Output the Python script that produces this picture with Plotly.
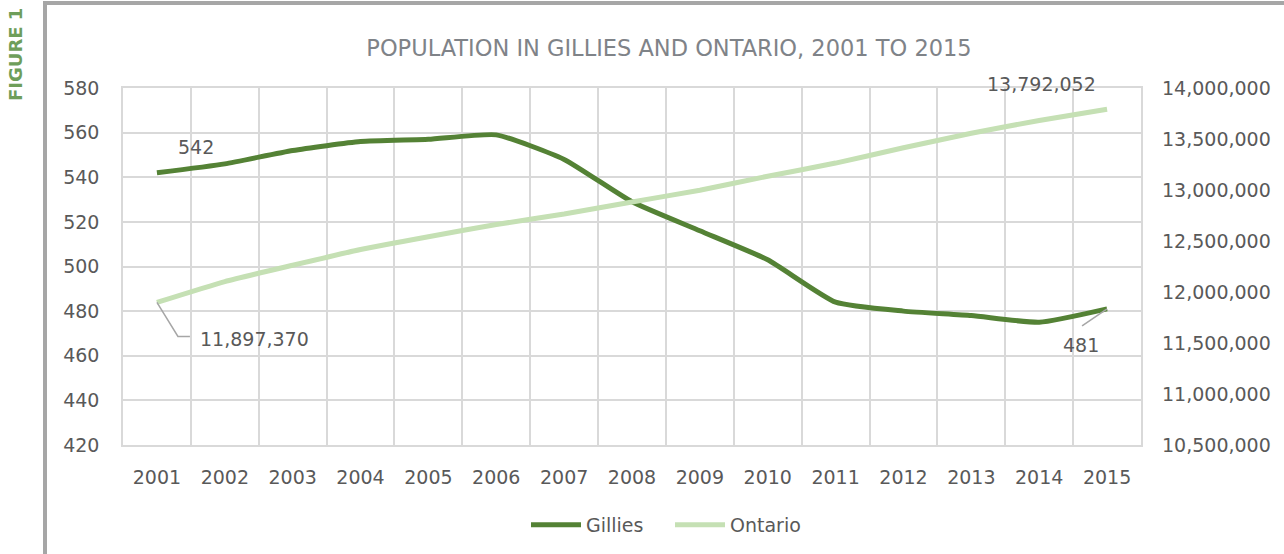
import plotly.graph_objects as go

years = list(range(2001, 2016))
gillies = [542, 546, 552, 556, 557, 559, 548, 529, 516, 503, 484, 480, 478, 475, 481]
ontario = [11897370, 12102000, 12262000, 12416000, 12542000, 12662000, 12764000,
           12883000, 12998000, 13135000, 13264000, 13414000, 13556000, 13682000, 13792052]
left_ticks = list(range(420, 581, 20))
right_ticks = list(range(10500000, 14000001, 500000))

FONT = "DejaVu Sans"
TXT = "#595959"
GRID = "#D9D9D9"

W, H = 1284, 554
L, R, T, B = 123, 143, 88, 109
pw, ph = W - L - R, H - T - B

def px(x):
    return (x - L) / pw

def py(y):
    return (H - B - y) / ph

fig = go.Figure()
fig.add_trace(go.Scatter(x=years, y=gillies, name="Gillies", mode="lines",
                         line=dict(color="#548235", width=5, shape="spline", smoothing=0.5)))
fig.add_trace(go.Scatter(x=years, y=ontario, name="Ontario", mode="lines", yaxis="y2",
                         line=dict(color="#C5E0B4", width=5, shape="spline", smoothing=0.5)))

ann_font = dict(family=FONT, size=19, color=TXT)
annotations = [
    dict(x=years[0], y=gillies[0], xref="x", yref="y", text=f"{gillies[0]}",
         showarrow=False, xshift=39, yshift=26, font=ann_font),
    dict(x=years[-1], y=gillies[-1], xref="x", yref="y", text=f"{gillies[-1]}",
         showarrow=False, xshift=-26, yshift=-36, font=ann_font),
    dict(x=years[0], y=ontario[0], xref="x", yref="y2", text=f"{ontario[0]:,}",
         showarrow=False, xshift=98, yshift=-37, font=ann_font),
    dict(x=years[-1], y=ontario[-1], xref="x", yref="y2", text=f"{ontario[-1]:,}",
         showarrow=False, xshift=-66, yshift=25, font=ann_font),
    dict(x=px(15), y=py(55), xref="paper", yref="paper", text="<b>FIGURE 1</b>",
         xanchor="center", yanchor="middle",
         textangle=-90, showarrow=False, font=dict(family=FONT, size=18, color="#6E9E5A")),
]

shapes = [
    # leader lines (pixel offsets from data points)
    dict(type="path", xref="x", yref="y2", xsizemode="pixel", ysizemode="pixel",
         xanchor=years[0], yanchor=ontario[0], path="M0,0 L21,-34 L33,-34",
         line=dict(color="#A6A6A6", width=1.5)),
    dict(type="line", xref="x", yref="y", xsizemode="pixel", ysizemode="pixel",
         xanchor=years[-1], yanchor=gillies[-1], x0=0, y0=0, x1=-25, y1=-17,
         line=dict(color="#A6A6A6", width=1.5)),
    # outer frame
    dict(type="path", xref="paper", yref="paper",
         path=f"M{px(45)},{py(560)} L{px(45)},{py(3)} L{px(1290)},{py(3)}",
         line=dict(color="#A6A6A6", width=4)),
]

bounds = [y + 0.5 for y in range(2000, 2016)]

fig.update_layout(
    width=W, height=H,
    margin=dict(l=L, r=R, t=T, b=B, autoexpand=False),
    paper_bgcolor="white", plot_bgcolor="white",
    font=dict(family=FONT, size=19, color=TXT),
    title=dict(text="POPULATION IN GILLIES AND ONTARIO, 2001 TO 2015",
               x=669 / W, xanchor="center", y=1 - 48 / H, yanchor="middle",
               xref="container", yref="container",
               font=dict(family=FONT, size=22.5, color="#7F8388")),
    xaxis=dict(range=[2000.5, 2015.5], tickvals=years, showgrid=False,
               ticks="", showline=True, mirror=True, linecolor=GRID, linewidth=1.5,
               zeroline=False, automargin=False,
               ticklabelstandoff=14, tickfont=dict(size=19, color=TXT),
               minor=dict(tickvals=bounds, showgrid=True, gridcolor=GRID, gridwidth=1.5,
                          ticks="")),
    yaxis=dict(range=[420, 580], tickvals=left_ticks, showgrid=True, gridcolor=GRID,
               gridwidth=1.5, zeroline=False, ticks="", ticklabelstandoff=18,
               showline=True, mirror=True, linecolor=GRID, linewidth=1.5,
               automargin=False, tickfont=dict(size=19, color=TXT)),
    yaxis2=dict(range=[10500000, 14000000], tickvals=right_ticks, tickformat=",",
                overlaying="y", side="right", showgrid=False, zeroline=False,
                automargin=False,
                ticks="", ticklabelstandoff=20, tickfont=dict(size=19, color=TXT)),
    legend=dict(orientation="h", x=px(526), xanchor="left", y=py(525), yanchor="middle",
                font=dict(size=19, color=TXT), itemwidth=50, tracegroupgap=0,
                entrywidth=79, entrywidthmode="pixels"),
    annotations=annotations,
    shapes=shapes,
    showlegend=True,
)

fig.write_html("out.html", config={"displayModeBar": False},
               post_script="document.body.style.margin='0';document.body.style.overflow='hidden';")
